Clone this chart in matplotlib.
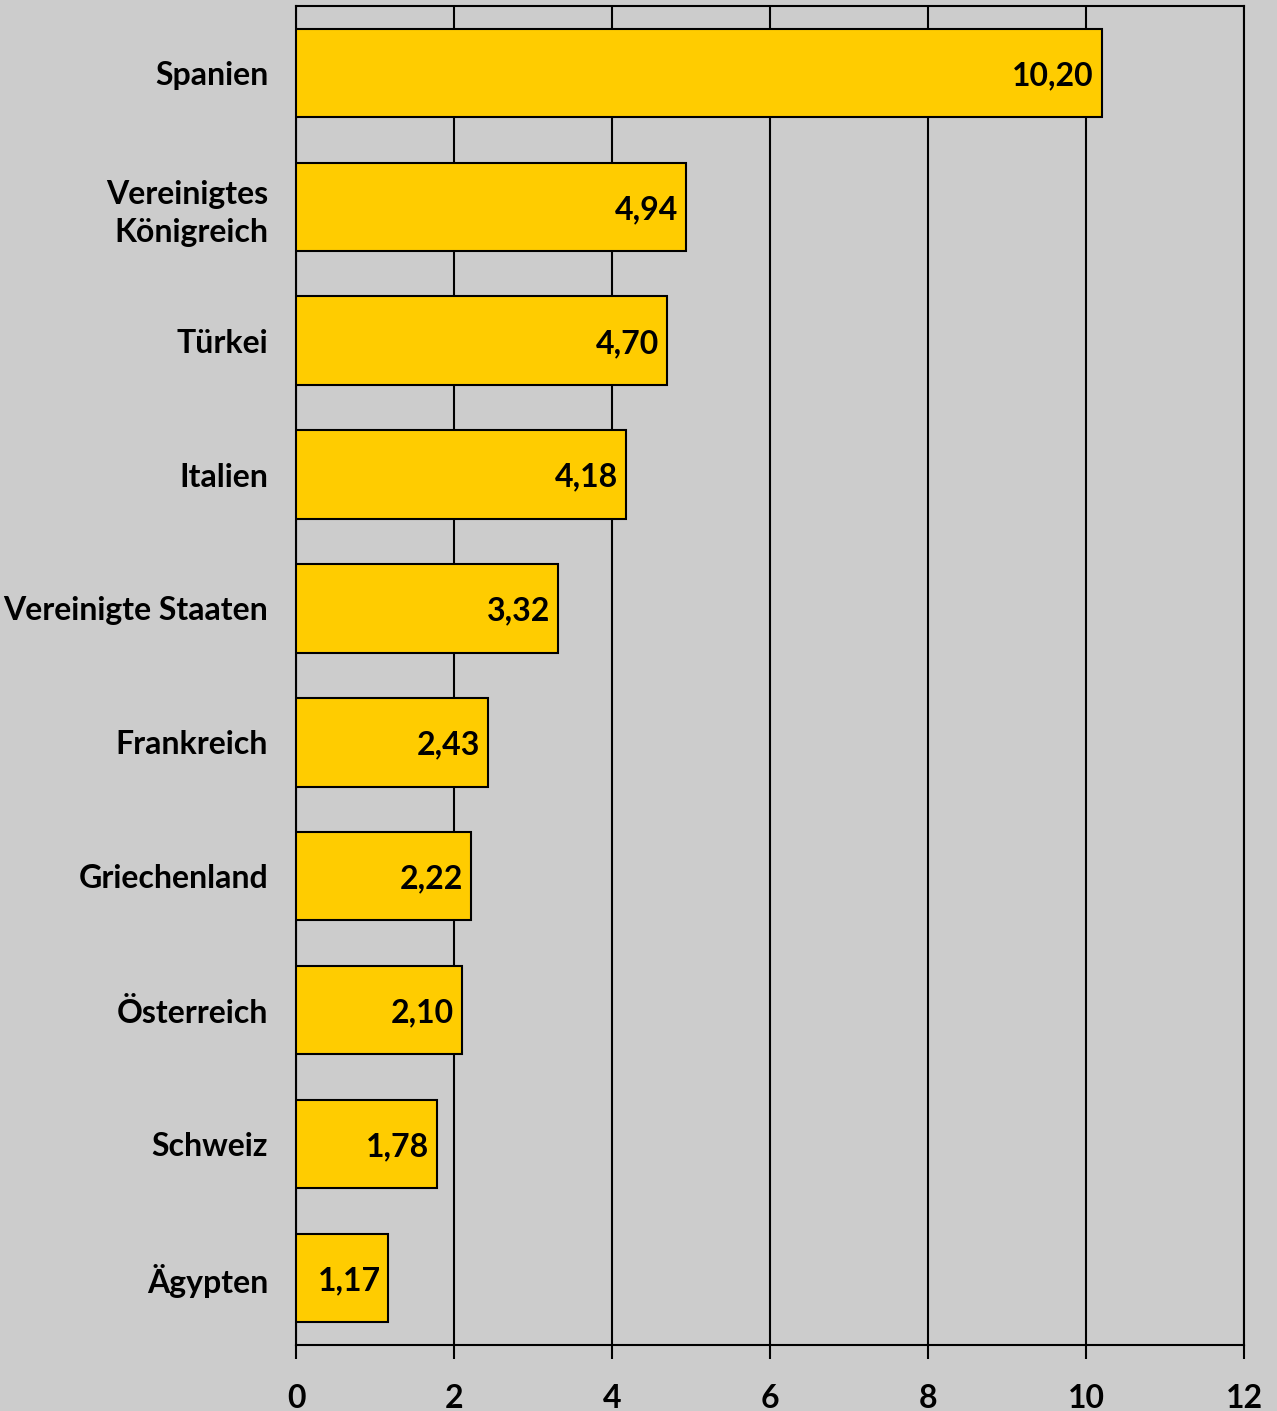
import matplotlib
matplotlib.use('Agg')
import matplotlib.pyplot as plt

countries = ['Spanien', 'Vereinigtes\nKönigreich', 'Türkei', 'Italien',
             'Vereinigte Staaten', 'Frankreich', 'Griechenland',
             'Österreich', 'Schweiz', 'Ägypten']
values = [10.20, 4.94, 4.70, 4.18, 3.32, 2.43, 2.22, 2.10, 1.78, 1.17]
x_ticks = [0, 2, 4, 6, 8, 10, 12]

bg = '#cccccc'
plt.rcParams['font.family'] = ['Lato', 'DejaVu Sans']
plt.rcParams['font.weight'] = 'bold'

fig = plt.figure(figsize=(12.77, 14.11), dpi=100, facecolor=bg)
ax = fig.add_axes([0.2318, 0.0468, 0.7424, 0.949])
ax.set_facecolor(bg)

pos = list(range(len(countries)))
ax.barh(pos, values, height=0.66, color='#ffcc00', edgecolor='black',
        linewidth=1.5, zorder=3)

for p, v in zip(pos, values):
    ax.text(v - 0.1, p + 0.02, f'{v:.2f}'.replace('.', ','), ha='right',
            va='center', fontsize=23, fontweight='bold', zorder=4)

ax.set_xlim(0, 12)
ax.set_ylim(len(countries) - 0.5, -0.5)
ax.set_xticks(x_ticks)
ax.set_xticklabels([str(t) for t in x_ticks], fontsize=23, fontweight='bold')
ax.set_yticks(pos)
ax.set_yticklabels(countries, fontsize=23, fontweight='bold',
                   linespacing=1.35)
ax.tick_params(axis='y', length=0, pad=20)
ax.tick_params(axis='x', length=10, width=1.5, pad=18, direction='out')
ax.grid(axis='x', color='black', linewidth=1.5, zorder=1)

for s in ax.spines.values():
    s.set_linewidth(1.5)
    s.set_color('black')

fig.savefig('out.png', dpi=100, facecolor=bg)
